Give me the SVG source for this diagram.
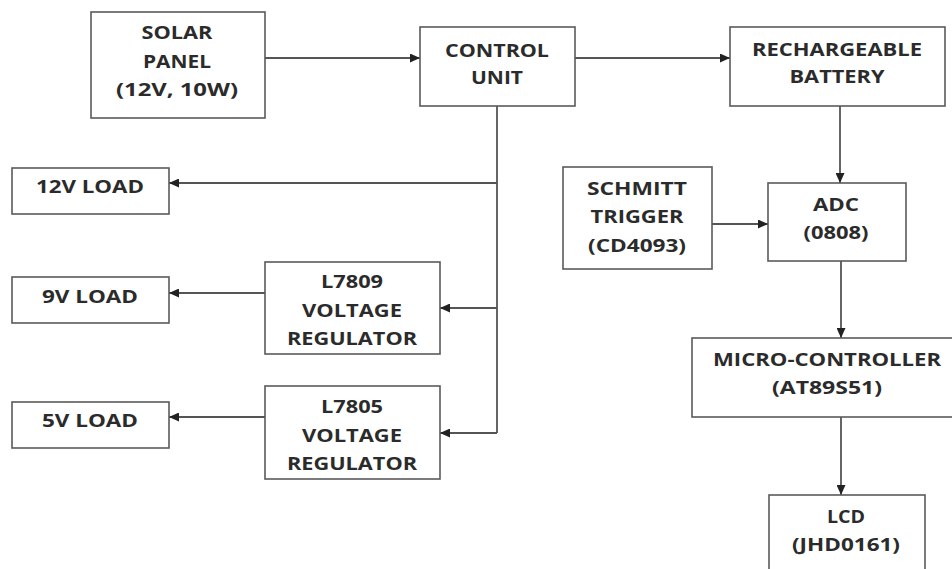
<svg xmlns="http://www.w3.org/2000/svg" width="952" height="569" viewBox="0 0 952 569">
<style>
.box{fill:#fff;stroke:#5a5a5a;stroke-width:1.6}
.t{font-family:"Open Sans","Liberation Sans",sans-serif;font-weight:bold;font-size:18px;fill:#2b2b2b;text-anchor:middle}
.c{fill:none;stroke:#555;stroke-width:1.8;marker-end:url(#ah)}
.l{fill:none;stroke:#555;stroke-width:1.8}
</style>
<defs>
<marker id="ah" markerUnits="userSpaceOnUse" markerWidth="10" markerHeight="9" refX="10" refY="4.5" orient="auto">
<path d="M0,0 L10,4.5 L0,9 z" fill="#222"/>
</marker>
</defs>
<rect width="952" height="569" fill="#fff"/>
<g id="connectors">
<path class="c" d="M265,58 H420"/>
<path class="c" d="M575,58 H730"/>
<path class="l" d="M497,106 V433"/>
<path class="c" d="M497,183 H169"/>
<path class="c" d="M497,308 H440"/>
<path class="c" d="M497,433 H440"/>
<path class="c" d="M265,293 H169"/>
<path class="c" d="M265,417 H169"/>
<path class="c" d="M840,106 V183"/>
<path class="c" d="M712,224 H768"/>
<path class="c" d="M841,261 V338"/>
<path class="c" d="M841,417 V495"/>
</g>
<g id="solar">
<rect class="box" x="91" y="12" width="174" height="106"/>
<text class="t" x="177" y="39" textLength="71" lengthAdjust="spacingAndGlyphs">SOLAR</text>
<text class="t" x="177" y="68" textLength="68" lengthAdjust="spacingAndGlyphs">PANEL</text>
<text class="t" x="177" y="96" textLength="122" lengthAdjust="spacingAndGlyphs">(12V, 10W)</text>
</g>
<g id="control">
<rect class="box" x="420" y="27" width="155" height="79"/>
<text class="t" x="497" y="57" textLength="104" lengthAdjust="spacingAndGlyphs">CONTROL</text>
<text class="t" x="497" y="84" textLength="52" lengthAdjust="spacingAndGlyphs">UNIT</text>
</g>
<g id="battery">
<rect class="box" x="730" y="27" width="215" height="79"/>
<text class="t" x="837" y="56" textLength="170" lengthAdjust="spacingAndGlyphs">RECHARGEABLE</text>
<text class="t" x="837" y="83" textLength="95" lengthAdjust="spacingAndGlyphs">BATTERY</text>
</g>
<g id="load12">
<rect class="box" x="12" y="168" width="157" height="46"/>
<text class="t" x="90" y="193" textLength="108" lengthAdjust="spacingAndGlyphs">12V LOAD</text>
</g>
<g id="load9">
<rect class="box" x="12" y="277" width="157" height="46"/>
<text class="t" x="90" y="303" textLength="96" lengthAdjust="spacingAndGlyphs">9V LOAD</text>
</g>
<g id="load5">
<rect class="box" x="12" y="402" width="157" height="46"/>
<text class="t" x="90" y="427" textLength="96" lengthAdjust="spacingAndGlyphs">5V LOAD</text>
</g>
<g id="l7809">
<rect class="box" x="265" y="262" width="175" height="92"/>
<text class="t" x="352" y="288" textLength="62" lengthAdjust="spacingAndGlyphs">L7809</text>
<text class="t" x="352" y="317" textLength="100" lengthAdjust="spacingAndGlyphs">VOLTAGE</text>
<text class="t" x="352" y="345" textLength="130" lengthAdjust="spacingAndGlyphs">REGULATOR</text>
</g>
<g id="l7805">
<rect class="box" x="265" y="386" width="175" height="93"/>
<text class="t" x="352" y="413" textLength="62" lengthAdjust="spacingAndGlyphs">L7805</text>
<text class="t" x="352" y="442" textLength="100" lengthAdjust="spacingAndGlyphs">VOLTAGE</text>
<text class="t" x="352" y="470" textLength="130" lengthAdjust="spacingAndGlyphs">REGULATOR</text>
</g>
<g id="schmitt">
<rect class="box" x="563" y="167" width="149" height="102"/>
<text class="t" x="637" y="195" textLength="100" lengthAdjust="spacingAndGlyphs">SCHMITT</text>
<text class="t" x="637" y="223" textLength="93" lengthAdjust="spacingAndGlyphs">TRIGGER</text>
<text class="t" x="637" y="252" textLength="98" lengthAdjust="spacingAndGlyphs">(CD4093)</text>
</g>
<g id="adc">
<rect class="box" x="768" y="183" width="138" height="78"/>
<text class="t" x="836" y="211" textLength="46" lengthAdjust="spacingAndGlyphs">ADC</text>
<text class="t" x="836" y="239" textLength="65" lengthAdjust="spacingAndGlyphs">(0808)</text>
</g>
<g id="micro">
<rect class="box" x="692" y="338" width="275" height="79"/>
<text class="t" x="827" y="366" textLength="228" lengthAdjust="spacingAndGlyphs">MICRO-CONTROLLER</text>
<text class="t" x="827" y="394" textLength="110" lengthAdjust="spacingAndGlyphs">(AT89S51)</text>
</g>
<g id="lcd">
<rect class="box" x="769" y="495" width="156" height="90"/>
<text class="t" x="846" y="523" textLength="38" lengthAdjust="spacingAndGlyphs">LCD</text>
<text class="t" x="846" y="551" textLength="108" lengthAdjust="spacingAndGlyphs">(JHD0161)</text>
</g>
</svg>
